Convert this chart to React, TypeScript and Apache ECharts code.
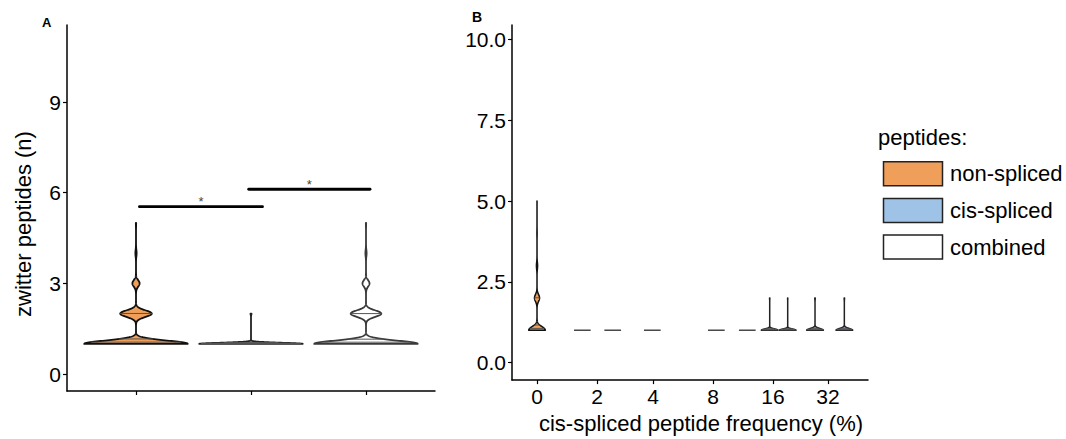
import React, { useEffect, useRef } from "react";
import * as echarts from "echarts";

// ---------- data ----------
const PEPTIDE_TYPES = ["non-spliced", "cis-spliced", "combined"];
const TYPE_FILLS = ["#EF9F5A", "#9EC3E7", "#FFFFFF"];
const TYPE_STROKES = ["#111111", "#222222", "#3a3a3a"];

// zwitter peptide numbers n and how many peptides have each n
const N_VALUES = [1, 2, 3, 4, 5];
const NON_SPLICED_COUNTS = [3000, 915, 210, 36, 9];
const CIS_SPLICED_COUNTS = [99, 1, 0, 0, 0];
const COMBINED_COUNTS = [3099, 916, 210, 36, 9];

// panel A
const A_X_POS = [1, 2, 3];
const A_Y_TICKS = [0, 3, 6, 9];
const A_SIG_FROM = [1.03, 1.98];
const A_SIG_TO = [2.1, 3.035];
const A_SIG_Y = [5.54, 6.115];
const A_SIG_LABEL = ["*", "*"];

// panel B
const B_X_TICKS = [0, 1.017, 1.966, 2.983, 4.0, 4.932];
const B_X_LABELS = ["0", "2", "4", "8", "16", "32"];
const B_Y_TICKS = [0, 2.5, 5, 7.5, 10];
const B_VIOLIN_X = [0, 0.768, 1.283, 1.954, 3.039, 3.564, 3.944, 4.249, 4.712, 5.209];
const B_VIOLIN_TYPE = [0, 1, 1, 1, 1, 1, 1, 1, 1, 1];
const B_VIOLIN_COUNTS = [
  NON_SPLICED_COUNTS,
  [40, 0, 0, 0, 0],
  [40, 0, 0, 0, 0],
  [40, 0, 0, 0, 0],
  [40, 0, 0, 0, 0],
  [40, 0, 0, 0, 0],
  [300, 6, 0, 0, 0],
  [250, 4, 0, 0, 0],
  [200, 6, 0, 0, 0],
  [150, 4, 0, 0, 0],
];

const QUANTILES = [0.25, 0.5, 0.75];

// ---------- density (R density / bw.nrd0 style, trimmed, scaled to width) ----------
function expand(counts: number[]) {
  const xs: number[] = [];
  counts.forEach((c, i) => {
    for (let k = 0; k < c; k++) xs.push(N_VALUES[i]);
  });
  return xs;
}
function quantile7(xs: number[], p: number) {
  const h = (xs.length - 1) * p;
  const f = Math.floor(h);
  const c = Math.min(f + 1, xs.length - 1);
  return xs[f] + (h - f) * (xs[c] - xs[f]);
}
function bwNrd0(xs: number[]) {
  const n = xs.length;
  const mean = xs.reduce((a, b) => a + b, 0) / n;
  const sd = Math.sqrt(xs.reduce((a, b) => a + (b - mean) * (b - mean), 0) / (n - 1));
  const iqr = quantile7(xs, 0.75) - quantile7(xs, 0.25);
  let lo = Math.min(sd, iqr / 1.34);
  if (!lo) lo = sd || Math.abs(xs[0]) || 1;
  return 0.9 * lo * Math.pow(n, -0.2);
}
type Violin = { flat: boolean; lo: number; ys: number[]; w: number[]; q: { y: number; w: number }[] };
function buildViolin(counts: number[]): Violin {
  const xs = expand(counts);
  const lo = xs[0];
  const hi = xs[xs.length - 1];
  if (hi === lo) return { flat: true, lo, ys: [], w: [], q: [] };
  const bw = bwNrd0(xs);
  const G = 512;
  const ys: number[] = [];
  const d: number[] = [];
  for (let i = 0; i < G; i++) {
    const y = lo + ((hi - lo) * i) / (G - 1);
    let s = 0;
    counts.forEach((c, k) => {
      if (c) {
        const z = (y - N_VALUES[k]) / bw;
        s += c * Math.exp(-0.5 * z * z);
      }
    });
    ys.push(y);
    d.push(s);
  }
  const mx = Math.max(...d);
  const w = d.map((v) => v / mx);
  const tot = d.reduce((a, b) => a + b, 0);
  const cdf: number[] = [];
  let acc = 0;
  d.forEach((v) => {
    acc += v;
    cdf.push(acc / tot);
  });
  const q = QUANTILES.map((p) => {
    let k = 0;
    while (k < G - 1 && cdf[k + 1] < p) k++;
    const t = cdf[k + 1] === cdf[k] ? 0 : (p - cdf[k]) / (cdf[k + 1] - cdf[k]);
    const yq = ys[k] + Math.max(0, Math.min(1, t)) * (ys[k + 1] - ys[k]);
    const j = Math.min(G - 2, Math.floor(((yq - lo) / (hi - lo)) * (G - 1)));
    const tt = (yq - ys[j]) / (ys[j + 1] - ys[j]);
    return { y: yq, w: w[j] + tt * (w[j + 1] - w[j]) };
  });
  return { flat: false, lo, ys, w, q };
}

const A_VIOLINS = [NON_SPLICED_COUNTS, CIS_SPLICED_COUNTS, COMBINED_COUNTS].map(buildViolin);
const B_VIOLINS = B_VIOLIN_COUNTS.map(buildViolin);

const FONT = "Liberation Sans, Arial, Helvetica, sans-serif";

function violinRender(violins: Violin[], types: number[], halfWidth: number, lw: number) {
  return (params: any, api: any) => {
    const x = api.value(0);
    const i = api.value(2);
    const v = violins[i];
    const t = types[i];
    const stroke = TYPE_STROKES[t];
    if (v.flat) {
      const a = api.coord([x - halfWidth, v.lo]);
      const b = api.coord([x + halfWidth, v.lo]);
      return {
        type: "line",
        shape: { x1: a[0], y1: a[1], x2: b[0], y2: b[1] },
        style: { stroke: "#3a3a3a", lineWidth: 1.4 },
      };
    }
    const right = v.ys.map((y, k) => api.coord([x + v.w[k] * halfWidth, y]));
    const left = v.ys.map((y, k) => api.coord([x - v.w[k] * halfWidth, y])).reverse();
    const children: any[] = [
      {
        type: "polygon",
        shape: { points: right.concat(left) },
        style: { fill: TYPE_FILLS[t], stroke, lineWidth: lw, lineJoin: "round" },
      },
    ];
    v.q.forEach((q) => {
      const a = api.coord([x - q.w * halfWidth, q.y]);
      const b = api.coord([x + q.w * halfWidth, q.y]);
      children.push({
        type: "line",
        shape: { x1: a[0], y1: a[1], x2: b[0], y2: b[1] },
        style: { stroke: "#555555", lineWidth: 1 },
      });
    });
    return { type: "group", children };
  };
}

function buildOption(): any {
  const axisLine = { show: true, onZero: false, lineStyle: { color: "#000", width: 1.5 } };
  const tickStyle = { color: "#000", width: 1.2 };
  const labelStyle = { color: "#000", fontSize: 21, fontFamily: FONT };

  const legendGraphics: any[] = [
    {
      type: "text",
      left: 878,
      top: 126,
      style: { text: "peptides:", fill: "#000", fontSize: 22, fontFamily: FONT },
    },
  ];
  PEPTIDE_TYPES.forEach((name, i) => {
    const top = 161.7 + i * 36.7;
    legendGraphics.push({
      type: "rect",
      shape: { x: 883.5, y: top, width: 59, height: 24 },
      style: { fill: TYPE_FILLS[i], stroke: "#222", lineWidth: 1.5 },
    });
    legendGraphics.push({
      type: "text",
      x: 950,
      y: top + 12,
      style: {
        text: name,
        fill: "#000",
        fontSize: 22,
        fontFamily: FONT,
        verticalAlign: "middle",
        textVerticalAlign: "middle",
      },
    });
  });

  return {
    animation: false,
    backgroundColor: "#fff",
    textStyle: { fontFamily: FONT },
    grid: [
      { left: 67, top: 25, width: 368, height: 366 },
      { left: 512, top: 25, width: 356, height: 363 },
    ],
    xAxis: [
      {
        type: "value",
        gridIndex: 0,
        min: 0.4,
        max: 3.6,
        axisLine,
        axisTick: { show: true, customValues: A_X_POS, length: 4, lineStyle: tickStyle },
        axisLabel: { show: false },
        splitLine: { show: false },
      },
      {
        type: "value",
        gridIndex: 1,
        min: -0.424,
        max: 5.61,
        axisLine,
        axisTick: { show: true, customValues: B_X_TICKS, length: 4, lineStyle: tickStyle },
        axisLabel: {
          ...labelStyle,
          customValues: B_X_TICKS,
          margin: 6,
          formatter: (val: number) => {
            const k = B_X_TICKS.findIndex((t) => Math.abs(t - val) < 1e-6);
            return k >= 0 ? B_X_LABELS[k] : "";
          },
        },
        splitLine: { show: false },
        name: "cis-spliced peptide frequency (%)",
        nameLocation: "middle",
        nameGap: 20,
        nameTextStyle: { color: "#000", fontSize: 22, fontFamily: FONT, padding: [0, 0, 0, 22] },
      },
    ],
    yAxis: [
      {
        type: "value",
        gridIndex: 0,
        min: -0.56,
        max: 11.55,
        axisLine,
        axisTick: { show: true, customValues: A_Y_TICKS, length: 4, lineStyle: tickStyle },
        axisLabel: { ...labelStyle, customValues: A_Y_TICKS, margin: 6 },
        splitLine: { show: false },
        name: "zwitter peptides (n)",
        nameLocation: "middle",
        nameGap: 33,
        nameTextStyle: { color: "#000", fontSize: 22, fontFamily: FONT, padding: [0, 32, 0, 0] },
      },
      {
        type: "value",
        gridIndex: 1,
        min: -0.545,
        max: 10.455,
        axisLine,
        axisTick: { show: true, customValues: B_Y_TICKS, length: 4, lineStyle: tickStyle },
        axisLabel: {
          ...labelStyle,
          customValues: B_Y_TICKS,
          margin: 6,
          formatter: (val: number) => val.toFixed(1),
        },
        splitLine: { show: false },
      },
    ],
    series: [
      {
        type: "custom",
        name: "A violins",
        xAxisIndex: 0,
        yAxisIndex: 0,
        encode: { x: 0, y: 1 },
        data: A_X_POS.map((x, i) => [x, 1, i]),
        renderItem: violinRender(A_VIOLINS, [0, 1, 2], 0.45, 1.8),
      },
      {
        type: "custom",
        name: "A significance",
        xAxisIndex: 0,
        yAxisIndex: 0,
        encode: { x: 0, y: 2 },
        data: A_SIG_FROM.map((f, i) => [f, A_SIG_TO[i], A_SIG_Y[i], i]),
        renderItem: (params: any, api: any) => {
          const a = api.coord([api.value(0), api.value(2)]);
          const b = api.coord([api.value(1), api.value(2)]);
          const i = api.value(3);
          return {
            type: "group",
            children: [
              {
                type: "line",
                shape: { x1: a[0], y1: a[1], x2: b[0], y2: b[1] },
                style: { stroke: "#000", lineWidth: 2.8, lineCap: "round" },
              },
              {
                type: "text",
                x: (a[0] + b[0]) / 2,
                y: a[1] - 5,
                style: {
                  text: A_SIG_LABEL[i],
                  fill: "#444",
                  fontSize: 13,
                  fontFamily: FONT,
                  align: "center",
                  verticalAlign: "middle",
                  textAlign: "center",
                  textVerticalAlign: "middle",
                },
              },
            ],
          };
        },
      },
      {
        type: "custom",
        name: "B violins",
        xAxisIndex: 1,
        yAxisIndex: 1,
        encode: { x: 0, y: 1 },
        data: B_VIOLIN_X.map((x, i) => [x, 1, i]),
        renderItem: violinRender(B_VIOLINS, B_VIOLIN_TYPE, 0.1415, 1.5),
      },
    ],
    graphic: [
      {
        type: "text",
        left: 42,
        top: 16,
        style: { text: "A", fill: "#000", fontSize: 13, fontWeight: "bold", fontFamily: FONT },
      },
      {
        type: "text",
        left: 472,
        top: 10,
        style: { text: "B", fill: "#000", fontSize: 14, fontWeight: "bold", fontFamily: FONT },
      },
      ...legendGraphics,
    ],
  };
}

export default function App() {
  const ref = useRef<HTMLDivElement>(null);
  useEffect(() => {
    document.body.style.margin = "0";
    const chart = echarts.init(ref.current!, null, { renderer: "svg" });
    chart.setOption(buildOption());
    return () => chart.dispose();
  }, []);
  return <div ref={ref} style={{ width: 1066, height: 439 }} />;
}
